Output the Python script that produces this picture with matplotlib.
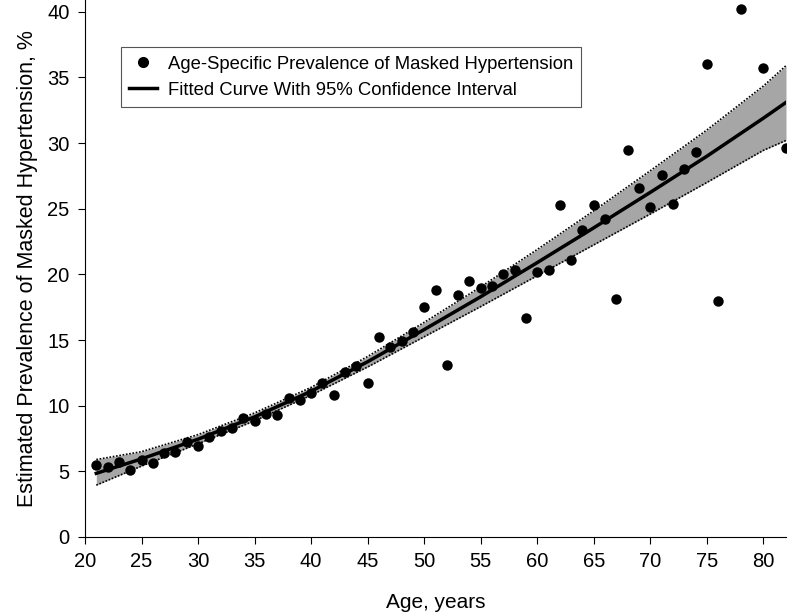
import matplotlib.pyplot as plt
from matplotlib.lines import Line2D

plt.rcParams['font.family'] = ['Liberation Sans', 'DejaVu Sans']

# Age-specific prevalence points (%)
ages = [21, 22, 23, 24, 25, 26, 27, 28, 29, 30, 31, 32, 33, 34, 35, 36, 37, 38,
        39, 40, 41, 42, 43, 44, 45, 46, 47, 48, 49, 50, 51, 52, 53, 54, 55, 56,
        57, 58, 59, 60, 61, 62, 63, 64, 65, 66, 67, 68, 69, 70, 71, 72, 73, 74,
        75, 76, 78, 80, 82]
prevalence = [5.5, 5.3, 5.7, 5.1, 5.9, 5.6, 6.4, 6.5, 7.2, 6.9, 7.6, 8.1, 8.3,
              9.1, 8.8, 9.4, 9.3, 10.6, 10.4, 11.0, 11.7, 10.8, 12.6, 13.0, 11.7,
              15.2, 14.5, 14.9, 15.6, 17.5, 18.8, 13.1, 18.4, 19.5, 19.0, 19.1,
              20.0, 20.3, 16.7, 20.2, 20.3, 25.3, 21.1, 23.4, 25.3, 24.2, 18.1,
              29.5, 26.6, 25.1, 27.6, 25.4, 28.0, 29.3, 36.0, 18.0, 40.2, 35.7,
              29.6]

# Fitted curve and 95% CI, read at these ages
fit_ages = [21, 25, 30, 35, 40, 45, 50, 55, 60, 65, 70, 75, 80, 82]
fit = [4.85, 5.95, 7.45, 9.15, 11.1, 13.35, 15.8, 18.3, 20.9, 23.55,
       26.25, 29.0, 31.9, 33.1]
ci_upper = [5.9, 6.5, 7.8, 9.45, 11.4, 13.75, 16.35, 19.05, 21.9, 24.85,
            27.9, 31.0, 34.35, 35.9]
ci_lower = [3.95, 5.4, 7.1, 8.85, 10.8, 12.95, 15.25, 17.55, 19.9, 22.25,
            24.6, 27.0, 29.45, 30.2]

fig = plt.figure(figsize=(7.9, 6.14), dpi=100)
ax = fig.add_axes([85 / 790, 1 - 537 / 614, 701 / 790, 537 / 614])

ax.fill_between(fit_ages, ci_lower, ci_upper, color='#a6a6a6', lw=0)
ax.plot(fit_ages, ci_upper, color='black', ls=(0, (1, 1)), lw=1.2)
ax.plot(fit_ages, ci_lower, color='black', ls=(0, (1, 1)), lw=1.2)
ax.plot(fit_ages, fit, color='black', lw=2.5)
ax.plot(ages, prevalence, 'o', color='black', ms=7.5, mec='none')

ax.set_xlim(20, 82)
ax.set_ylim(0, 40.9)
ax.set_xticks(range(20, 81, 5))
ax.set_yticks(range(0, 41, 5))
ax.spines['top'].set_visible(False)
ax.spines['right'].set_visible(False)
ax.tick_params(direction='out', length=5, labelsize=14.5, pad=6)
ax.set_xlabel('Age, years', fontsize=15, labelpad=16)
ax.set_ylabel('Estimated Prevalence of Masked Hypertension, %', fontsize=15.5,
              labelpad=7)

handles = [Line2D([], [], ls='none', marker='o', color='black', ms=7),
           Line2D([], [], color='black', lw=2.5)]
labels = ['Age-Specific Prevalence of Masked Hypertension',
          'Fitted Curve With 95% Confidence Interval']
leg = ax.legend(handles, labels, loc='upper left', bbox_to_anchor=(0.051, 0.912),
                borderaxespad=0, fontsize=13.3, fancybox=False, framealpha=1,
                edgecolor='#555555', handlelength=1.5, handletextpad=0.6,
                borderpad=0.45, labelspacing=0.5)
leg.get_frame().set_linewidth(0.8)

fig.savefig('out.png', dpi=100)
